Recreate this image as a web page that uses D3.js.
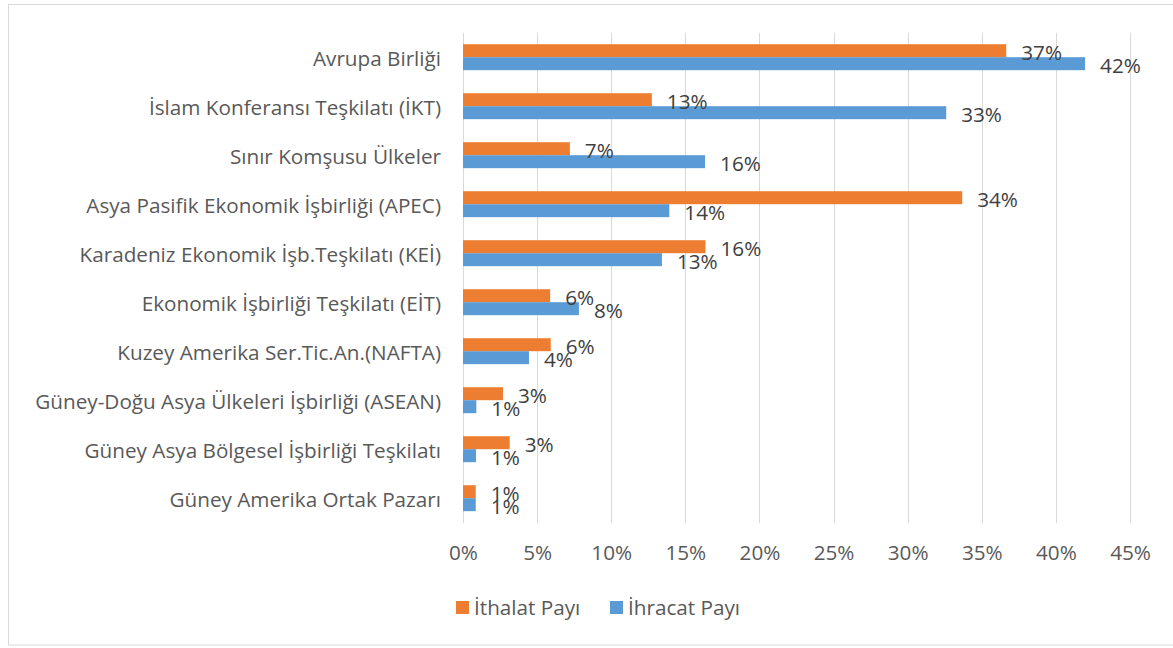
<!DOCTYPE html>
<html>
<head>
<meta charset="utf-8">
<script src="https://cdn.jsdelivr.net/npm/d3@7"></script>
<style>
  html, body { margin: 0; padding: 0; background: #fff; }
  svg { display: block; font-family: "Open Sans", "Noto Sans", sans-serif; }
  .tick line { stroke: #d9d9d9; }
</style>
</head>
<body>
<div id="chart"></div>
<script>
// data (shares in %)
const categories = [
  "Avrupa Birliği",
  "İslam Konferansı Teşkilatı (İKT)",
  "Sınır Komşusu Ülkeler",
  "Asya Pasifik Ekonomik İşbirliği (APEC)",
  "Karadeniz Ekonomik İşb.Teşkilatı (KEİ)",
  "Ekonomik İşbirliği Teşkilatı (EİT)",
  "Kuzey Amerika Ser.Tic.An.(NAFTA)",
  "Güney-Doğu Asya Ülkeleri İşbirliği (ASEAN)",
  "Güney Asya Bölgesel İşbirliği Teşkilatı",
  "Güney Amerika Ortak Pazarı"
];
const ithalat = [36.65, 12.74, 7.21, 33.68, 16.36, 5.88, 5.92, 2.70, 3.15, 0.86];
const ihracat = [41.97, 32.6, 16.33, 13.92, 13.42, 7.82, 4.45, 0.90, 0.88, 0.86];
const seriesNames = ["İthalat Payı", "İhracat Payı"];
const xTicks = [0, 5, 10, 15, 20, 25, 30, 35, 40, 45];

const colors = ["#ed7d31", "#5b9bd5"];
const width = 1173, height = 648;
const margin = { top: 32.7, right: 43, bottom: 125.3, left: 463 };
const fontSize = "20.7px";

const rows = categories.map((c, i) => ({ name: c, values: [ithalat[i], ihracat[i]] }));

const svg = d3.select("#chart").append("svg")
  .attr("width", width)
  .attr("height", height);

// chart border
svg.append("rect")
  .attr("x", 8.5).attr("y", 4.5)
  .attr("width", 1180).attr("height", 640.5)
  .attr("fill", "#fff")
  .attr("stroke", "#d9d9d9");

// scales
const x = d3.scaleLinear().domain([0, 45]).range([margin.left, width - margin.right]);
const y = d3.scaleBand()
  .domain(categories)
  .range([margin.top, height - margin.bottom])
  .paddingInner(0.47)
  .paddingOuter(0.235);
const ySub = d3.scaleBand().domain([0, 1]).range([0, y.bandwidth()]);

// grid + tick labels
const xAxis = d3.axisBottom(x)
  .tickValues(xTicks)
  .tickFormat((d) => d + "%")
  .tickSize(-(height - margin.bottom - margin.top))
  .tickPadding(23);

svg.append("g")
  .attr("class", "x-axis")
  .attr("transform", `translate(0,${height - margin.bottom})`)
  .call(xAxis)
  .call((g) => g.select(".domain").remove())
  .call((g) => g.selectAll("line").attr("shape-rendering", "crispEdges"))
  .call((g) => g.selectAll("text")
    .attr("fill", "#595959")
    .style("font-size", fontSize)
    .style("font-family", "'Open Sans', 'Noto Sans', sans-serif"));

// category labels
svg.append("g")
  .selectAll("text")
  .data(categories)
  .join("text")
  .attr("x", margin.left - 22)
  .attr("y", (d) => y(d) + y.bandwidth() / 2 + 1)
  .attr("dy", "0.357em")
  .attr("text-anchor", "end")
  .attr("fill", "#595959")
  .style("font-size", fontSize)
  .text((d) => d);

// bars
const groups = svg.append("g")
  .selectAll("g")
  .data(rows)
  .join("g")
  .attr("transform", (d) => `translate(0,${y(d.name)})`);

groups.selectAll("rect")
  .data((d) => d.values)
  .join("rect")
  .attr("x", x(0))
  .attr("y", (d, i) => ySub(i))
  .attr("width", (d) => x(d) - x(0))
  .attr("height", ySub.bandwidth())
  .attr("fill", (d, i) => colors[i]);

// data labels
groups.selectAll("text")
  .data((d) => d.values)
  .join("text")
  .attr("x", (d) => x(d) + 15)
  .attr("y", (d, i) => ySub(i) + ySub.bandwidth() / 2 + 2)
  .attr("dy", "0.357em")
  .attr("fill", "#404040")
  .style("font-size", fontSize)
  .text((d) => Math.round(d) + "%");

// legend
const legend = svg.append("g")
  .attr("transform", "translate(456,601)");

const legendX = [0, 154];
seriesNames.forEach((s, i) => {
  legend.append("rect")
    .attr("x", legendX[i]).attr("y", 0)
    .attr("width", 13).attr("height", 13)
    .attr("fill", colors[i]);
  legend.append("text")
    .attr("x", legendX[i] + 18)
    .attr("y", 6.5)
    .attr("dy", "0.357em")
    .attr("fill", "#595959")
    .style("font-size", fontSize)
    .text(s);
});
</script>
</body>
</html>
